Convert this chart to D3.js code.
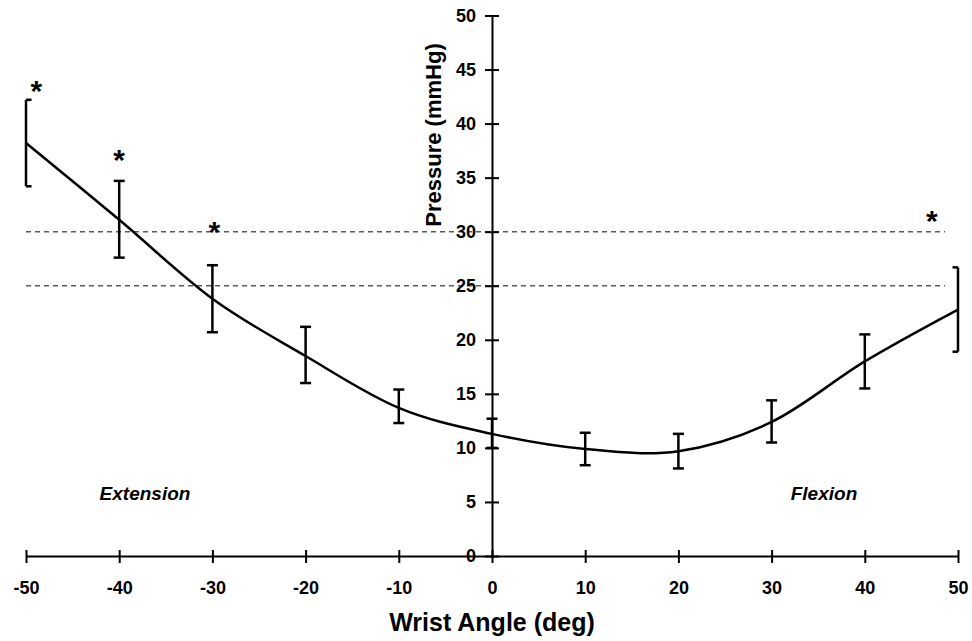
<!DOCTYPE html>
<html>
<head>
<meta charset="utf-8">
<script src="https://cdn.jsdelivr.net/npm/d3@7"></script>
<style>
  body { margin: 0; background: #fff; }
  text { font-family: "Liberation Sans", Arial, sans-serif; font-weight: bold; }
</style>
</head>
<body>
<script>
// Data
var angles   = [-50, -40, -30, -20, -10, 0, 10, 20, 30, 40, 50];
var pressure = [38.2, 31.1, 23.8, 18.5, 13.7, 11.3, 9.9, 9.7, 12.4, 18.0, 22.8];
var upper    = [42.2, 34.7, 26.9, 21.2, 15.4, 12.7, 11.4, 11.3, 14.4, 20.5, 26.7];
var lower    = [34.2, 27.6, 20.7, 16.0, 12.3, 10.0, 8.4, 8.1, 10.5, 15.5, 18.9];

// significance stars
var starX = [-48.9, -40, -29.8, 47.2];
var starY = [43.6, 37.2, 30.6, 31.6];

// dashed threshold lines
var thresholds = [25, 30];
var thresholdEnd = 48.6;

var xTicks = [-50, -40, -30, -20, -10, 0, 10, 20, 30, 40, 50];
var yTicks = [0, 5, 10, 15, 20, 25, 30, 35, 40, 45, 50];

var svgWidth = 972;
var svgHeight = 641;

var svg = d3.select("body")
  .append("svg")
  .attr("width", svgWidth)
  .attr("height", svgHeight);

var x = d3.scaleLinear().domain([-50, 50]).range([26, 958]);
var y = d3.scaleLinear().domain([0, 50]).range([556, 15.5]);

// dashed lines
svg.selectAll(".thresh")
  .data(thresholds).enter()
  .append("line")
  .attr("class", "thresh")
  .attr("x1", x(-50))
  .attr("x2", x(thresholdEnd))
  .attr("y1", d => y(d))
  .attr("y2", d => y(d))
  .attr("stroke", "#5a5a5a")
  .attr("stroke-width", 1.6)
  .attr("stroke-dasharray", "5,4");

// x axis
var xAxis = svg.append("g")
  .attr("transform", "translate(0," + y(0) + ")")
  .call(d3.axisBottom(x).tickValues(xTicks).tickFormat(d => String(d))
    .tickSize(7).tickSizeOuter(0).tickPadding(18));
xAxis.select(".domain").attr("stroke", "#000").attr("stroke-width", 2);
xAxis.selectAll(".tick line").attr("y1", -6).attr("y2", 7).attr("stroke-width", 2);
xAxis.selectAll(".tick text")
  .attr("font-size", 18)
  .attr("fill", "#000")
  .style("font-family", "'Liberation Sans', Arial, sans-serif")
  .style("font-weight", "bold");

// y axis
var yAxis = svg.append("g")
  .attr("transform", "translate(" + x(0) + ",0)")
  .call(d3.axisLeft(y).tickValues(yTicks).tickFormat(d => String(d))
    .tickSize(7).tickSizeOuter(0).tickPadding(9));
yAxis.select(".domain").attr("stroke", "#000").attr("stroke-width", 2);
yAxis.selectAll(".tick line").attr("x1", -7).attr("x2", 7).attr("stroke-width", 2);
yAxis.selectAll(".tick text")
  .attr("font-size", 18)
  .attr("fill", "#000")
  .style("font-family", "'Liberation Sans', Arial, sans-serif")
  .style("font-weight", "bold");

// error bars
var pts = angles.map(function(a, i) {
  return { a: a, m: pressure[i], hi: upper[i], lo: lower[i] };
});

var bars = svg.selectAll(".err")
  .data(pts).enter()
  .append("g")
  .attr("class", "err")
  .attr("stroke", "#000")
  .attr("stroke-width", 2.5);

bars.append("line")
  .attr("x1", d => x(d.a)).attr("x2", d => x(d.a))
  .attr("y1", d => y(d.hi)).attr("y2", d => y(d.lo));

[ "hi", "lo" ].forEach(function(k) {
  bars.append("line")
    .attr("x1", d => Math.max(x(d.a) - 5.5, x(-50)))
    .attr("x2", d => Math.min(x(d.a) + 5.5, x(50)))
    .attr("y1", d => y(d[k])).attr("y2", d => y(d[k]));
});

// smoothed mean curve
var line = d3.line()
  .x(d => x(d.a))
  .y(d => y(d.m))
  .curve(d3.curveCardinal.tension(0));

svg.append("path")
  .datum(pts)
  .attr("fill", "none")
  .attr("stroke", "#000")
  .attr("stroke-width", 2.5)
  .attr("d", line);

// stars
var starSize = 30;
svg.selectAll(".star")
  .data(starX).enter()
  .append("text")
  .attr("class", "star")
  .attr("x", d => x(d))
  .attr("y", (d, i) => y(starY[i]) + starSize * 0.55)
  .attr("text-anchor", "middle")
  .attr("font-size", starSize)
  .text("*");

// region labels
svg.append("text")
  .attr("x", 145).attr("y", 500)
  .attr("text-anchor", "middle")
  .attr("font-size", 19)
  .style("font-style", "italic")
  .text("Extension");

svg.append("text")
  .attr("x", 824).attr("y", 500)
  .attr("text-anchor", "middle")
  .attr("font-size", 19)
  .style("font-style", "italic")
  .text("Flexion");

// axis titles
svg.append("text")
  .attr("x", 492).attr("y", 631)
  .attr("text-anchor", "middle")
  .attr("font-size", 25)
  .text("Wrist Angle (deg)");

svg.append("g")
  .attr("transform", "translate(441, 135)")
  .append("text")
  .attr("text-anchor", "middle")
  .attr("transform", "rotate(-90)")
  .attr("font-size", 22)
  .text("Pressure (mmHg)");
</script>
</body>
</html>
